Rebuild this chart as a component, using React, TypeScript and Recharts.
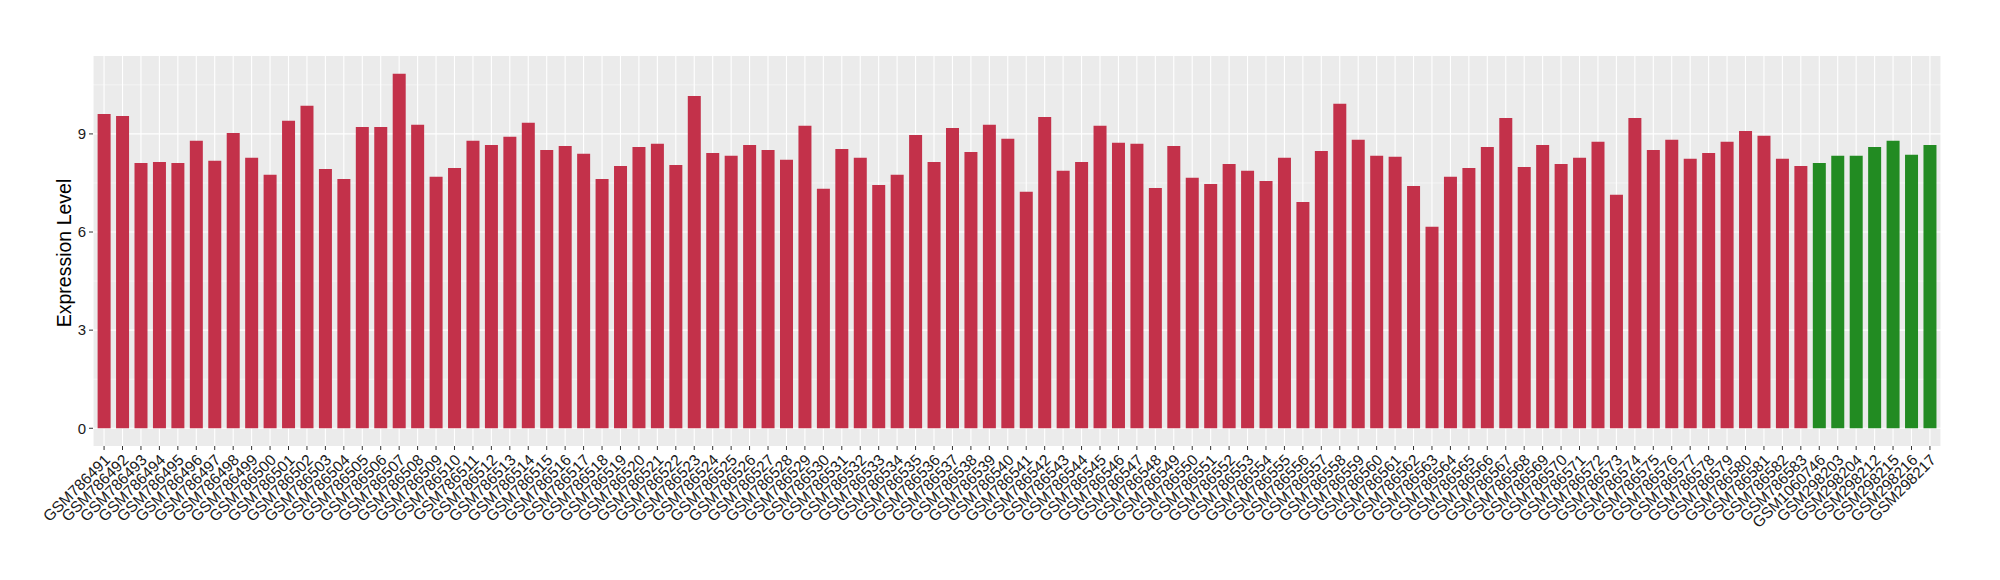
import { BarChart, Bar, XAxis, YAxis, CartesianGrid, Cell } from "recharts";

const redSamples = [
  "GSM786491", "GSM786492", "GSM786493", "GSM786494", "GSM786495", "GSM786496", "GSM786497", "GSM786498",
  "GSM786499", "GSM786500", "GSM786501", "GSM786502", "GSM786503", "GSM786504", "GSM786505", "GSM786506",
  "GSM786507", "GSM786508", "GSM786509", "GSM786510", "GSM786511", "GSM786512", "GSM786513", "GSM786514",
  "GSM786515", "GSM786516", "GSM786517", "GSM786518", "GSM786519", "GSM786520", "GSM786521", "GSM786522",
  "GSM786523", "GSM786524", "GSM786525", "GSM786526", "GSM786527", "GSM786528", "GSM786529", "GSM786530",
  "GSM786531", "GSM786532", "GSM786533", "GSM786534", "GSM786535", "GSM786536", "GSM786537", "GSM786538",
  "GSM786539", "GSM786540", "GSM786541", "GSM786542", "GSM786543", "GSM786544", "GSM786545", "GSM786546",
  "GSM786547", "GSM786548", "GSM786549", "GSM786550", "GSM786551", "GSM786552", "GSM786553", "GSM786554",
  "GSM786555", "GSM786556", "GSM786557", "GSM786558", "GSM786559", "GSM786560", "GSM786561", "GSM786562",
  "GSM786563", "GSM786564", "GSM786565", "GSM786566", "GSM786567", "GSM786568", "GSM786569", "GSM786570",
  "GSM786571", "GSM786572", "GSM786573", "GSM786574", "GSM786575", "GSM786576", "GSM786577", "GSM786578",
  "GSM786579", "GSM786580", "GSM786581", "GSM786582", "GSM786583",
];

const redValues = [
  9.61, 9.55, 8.11, 8.14, 8.11, 8.79, 8.18, 9.03, 8.27, 7.75, 9.4, 9.86, 7.93, 7.62, 9.21, 9.21,
  10.84, 9.28, 7.69, 7.96, 8.79, 8.66, 8.91, 9.34, 8.51, 8.63, 8.39, 7.62, 8.02, 8.6, 8.7, 8.05,
  10.16, 8.42, 8.33, 8.66, 8.51, 8.21, 9.25, 7.32, 8.54, 8.27, 7.44, 7.75, 8.97, 8.14, 9.18, 8.45,
  9.28, 8.85, 7.23, 9.52, 7.87, 8.14, 9.25, 8.73, 8.7, 7.35, 8.63, 7.66, 7.47, 8.08, 7.87, 7.56,
  8.27, 6.92, 8.48, 9.92, 8.82, 8.33, 8.3, 7.41, 6.16, 7.69, 7.96, 8.6, 9.49, 7.99, 8.66, 8.08,
  8.27, 8.76, 7.14, 9.49, 8.51, 8.82, 8.24, 8.42, 8.76, 9.09, 8.94, 8.24, 8.02,
];

const greenSamples = ["GSM1060746", "GSM298203", "GSM298204", "GSM298212", "GSM298215", "GSM298216", "GSM298217"];
const greenValues = [8.11, 8.33, 8.33, 8.6, 8.79, 8.36, 8.66];

const yTicks = [0, 3, 6, 9];
const yMinor = [1.5, 4.5, 7.5, 10.5];

const RED = "#C3314A";
const GREEN = "#228B22";

const data = [
  ...redSamples.map((name, i) => ({ name, value: redValues[i], color: RED })),
  ...greenSamples.map((name, i) => ({ name, value: greenValues[i], color: GREEN })),
];

const FONT = "'Liberation Sans', Arial, sans-serif";

function SampleTick(props: any) {
  const { x, y, payload } = props;
  const ax = x + 7;
  const ay = y + 9;
  return (
    <text
      x={ax}
      y={ay}
      transform={`rotate(-45, ${ax}, ${ay})`}
      textAnchor="end"
      fontSize={15.5}
      fontFamily={FONT}
      fill="#1a1a1a"
    >
      {payload.value}
    </text>
  );
}

export default function App() {
  return (
    <div style={{ position: "absolute", left: 0, top: 0, width: 2000, height: 580, fontFamily: FONT }}>
      <BarChart
        width={2000}
        height={580}
        data={data}
        margin={{ top: 56, right: 59, left: 0, bottom: 0 }}
        barCategoryGap="15%"
      >
        <CartesianGrid
          fill="#EBEBEB"
          stroke="#FFFFFF"
          strokeWidth={1.1}
          horizontalValues={yTicks}
        />
        <CartesianGrid
          stroke="#FFFFFF"
          strokeWidth={0.5}
          vertical={false}
          horizontalValues={yMinor}
        />
        <XAxis
          dataKey="name"
          interval={0}
          height={134}
          padding={{ left: 1.85, right: 1.85 }}
          axisLine={false}
          tickLine={{ stroke: "#333333" }}
          tickSize={4}
          tickMargin={2}
          tick={<SampleTick />}
        />
        <YAxis
          width={93}
          domain={[-0.542, 11.382]}
          allowDataOverflow
          ticks={yTicks}
          axisLine={false}
          tickLine={{ stroke: "#333333" }}
          tickSize={4}
          tickMargin={3}
          tick={{ fontSize: 15, fill: "#1a1a1a", fontFamily: FONT }}
        />
        <Bar dataKey="value" isAnimationActive={false}>
          {data.map((d) => (
            <Cell key={d.name} fill={d.color} />
          ))}
        </Bar>
      </BarChart>
      <div
        style={{
          position: "absolute",
          left: 65,
          top: 253,
          transform: "translate(-50%, -50%) rotate(-90deg)",
          fontSize: 19.5,
          color: "#000",
          whiteSpace: "nowrap",
          lineHeight: 1,
        }}
      >
        Expression Level
      </div>
    </div>
  );
}
